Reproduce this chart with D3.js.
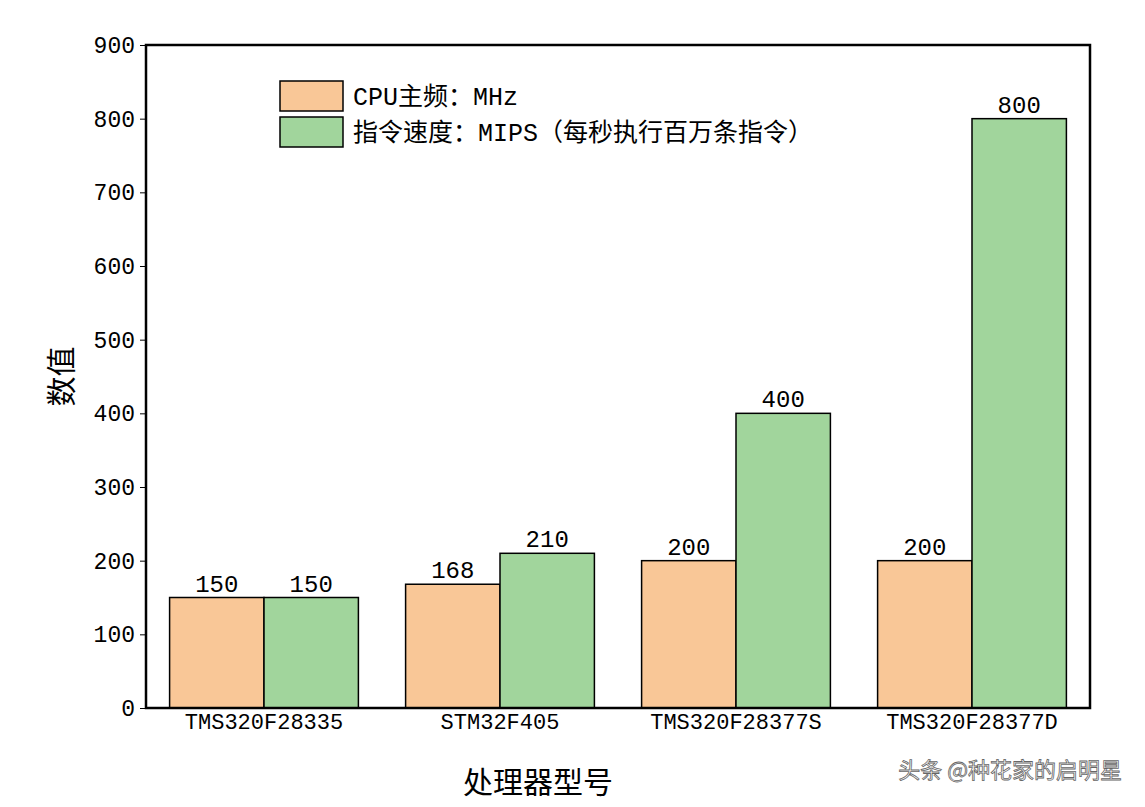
<!DOCTYPE html><html><head><meta charset="utf-8">
<script src="https://cdn.jsdelivr.net/npm/d3@7"></script>
<style>body{margin:0;background:#fff}</style></head><body><svg id="c" width="1145" height="807"></svg>
<script>
const categories=["TMS320F28335","STM32F405","TMS320F28377S","TMS320F28377D"];
const cpuMHz=[150,168,200,200];
const mips=[150,210,400,800];
const seriesNames=["CPU主频：MHz","指令速度：MIPS（每秒执行百万条指令）"];
const colors=["#f9c797","#a1d59c"];
const yTicks=[0,100,200,300,400,500,600,700,800,900];
const F="'Liberation Mono','Noto Sans CJK SC',monospace";
const svg=d3.select("#c");
const L=146,R=1090,T=45,B=708;
const x=d3.scaleBand().domain(categories).range([L,R]).paddingInner(0.2).paddingOuter(0.1);
const y=d3.scaleLinear().domain([0,900]).range([B,T]);
const series=[cpuMHz,mips];
series.forEach((s,si)=>{
  svg.selectAll(null).data(s).enter().append("rect")
   .attr("x",(d,i)=>x(categories[i])+si*x.bandwidth()/2).attr("width",x.bandwidth()/2)
   .attr("y",d=>y(d)).attr("height",d=>y(0)-y(d))
   .attr("fill",colors[si]).attr("stroke","#000").attr("stroke-width",1.5);
  svg.selectAll(null).data(s).enter().append("text")
   .attr("x",(d,i)=>x(categories[i])+si*x.bandwidth()/2+x.bandwidth()/4).attr("y",d=>y(d)-6)
   .attr("text-anchor","middle").attr("font-family",F).attr("font-size",24).text(d=>d);
});
const ya=svg.append("g").attr("transform",`translate(${L},0)`).call(d3.axisLeft(y).tickValues(yTicks).tickSize(6).tickSizeOuter(0));
ya.selectAll("text").attr("font-family",F).attr("font-size",23).attr("fill","#000").attr("dx",-2);
const xa=svg.append("g").attr("transform",`translate(0,${B})`).call(d3.axisBottom(x).tickSize(0));
xa.selectAll("text").attr("font-family",F).attr("font-size",22).attr("fill","#000").attr("dy",18);
svg.selectAll(".domain").remove();
svg.append("rect").attr("x",L).attr("y",T).attr("width",R-L).attr("height",B-T).attr("fill","none").attr("stroke","#000").attr("stroke-width",2.5);
svg.append("text").attr("x",(L+R)/2-80).attr("y",793).attr("text-anchor","middle").attr("font-family",F).attr("font-size",30).text("处理器型号");
svg.append("text").attr("transform",`translate(72,${(T+B)/2}) rotate(-90)`).attr("text-anchor","middle").attr("font-family",F).attr("font-size",30).text("数值");
seriesNames.forEach((n,i)=>{
  svg.append("rect").attr("x",280).attr("y",81+i*36).attr("width",63).attr("height",30).attr("fill",colors[i]).attr("stroke","#000").attr("stroke-width",1.5);
  svg.append("text").attr("x",353).attr("y",105+i*36).attr("font-family",F).attr("font-size",25).text(n);
});
svg.append("text").attr("x",1122).attr("y",778).attr("text-anchor","end").attr("font-family","'Noto Sans CJK SC'").attr("font-size",22).attr("fill","#fff").attr("stroke","#666").attr("stroke-width",0.8).text("头条 @种花家的启明星");
</script></body></html>
